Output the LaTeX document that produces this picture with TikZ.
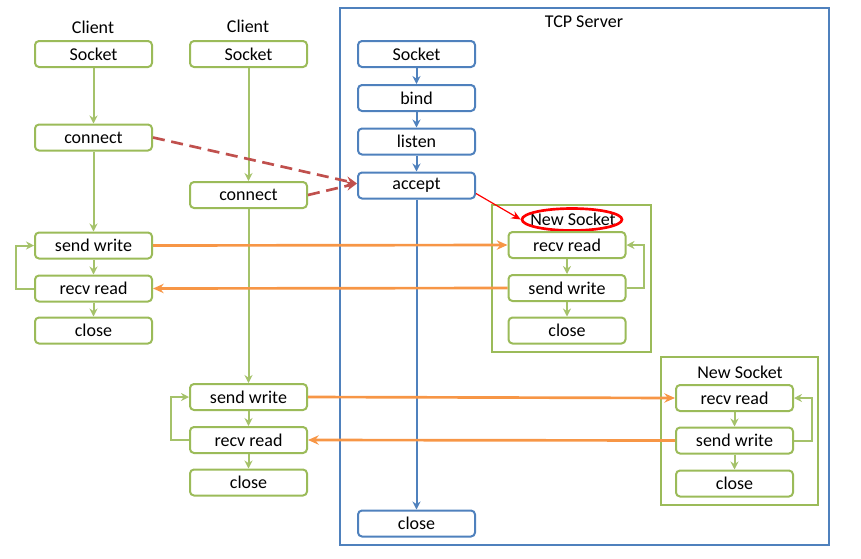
\documentclass[tikz,border=0pt]{standalone}
\usepackage{fontspec}
\setmainfont{Carlito}
\usetikzlibrary{arrows.meta,shapes.geometric}
\definecolor{gbord}{HTML}{9BBB59}
\definecolor{bbord}{HTML}{4F81BD}
\definecolor{oline}{HTML}{F79646}
\definecolor{dred}{HTML}{C0504D}
\tikzset{
  box/.style={draw, rounded corners=3pt, line width=1.5pt, fill=white,
    minimum width=117*0.75pt, minimum height=26*0.75pt, inner sep=0pt,
    font=\fontsize{13.5pt}{15pt}\selectfont},
  gbox/.style={box, draw=gbord},
  bbox/.style={box, draw=bbord},
  lbl/.style={font=\fontsize{13.5pt}{15pt}\selectfont, inner sep=0pt},
  garrow/.style={draw=gbord!90, line width=1.5pt, -{Stealth[length=6pt,width=6pt]}},
  barrow/.style={draw=bbord, line width=1.5pt, -{Stealth[length=6pt,width=6pt]}},
  oarrow/.style={draw=oline, line width=2pt, -{Stealth[length=8pt,width=7pt]}},
  rdash/.style={draw=dred, line width=2pt, dash pattern=on 9pt off 5pt, -{Stealth[length=8pt,width=7pt]}},
  frame/.style={draw=gbord, line width=1.5pt},
}
\begin{document}
\begin{tikzpicture}[x=0.75pt,y=-0.75pt]
\useasboundingbox (0,0) rectangle (861,558);
% server frame
\node[draw=bbord, line width=1.2pt, minimum width=489*0.75pt, minimum height=537*0.75pt, inner sep=0pt] (server) at (584.5,276.5) {};
\node[lbl] (tcplbl) at (584,22) {TCP Server};
% new socket frames
\node[frame, minimum width=159*0.75pt, minimum height=147*0.75pt, inner sep=0pt] (ns1frame) at (571.5,278.5) {};
\node[frame, minimum width=157*0.75pt, minimum height=148*0.75pt, inner sep=0pt] (ns2frame) at (739.5,431) {};

% client 1
\node[lbl] (c1lbl) at (93,27) {Client};
\node[gbox] (c1sock) at (93.5,54) {Socket};
\node[gbox] (c1conn) at (93.5,137.5) {connect};
\node[gbox] (c1send) at (93.5,245.5) {send write};
\node[gbox] (c1recv) at (93.5,288.5) {recv read};
\node[gbox] (c1close) at (93.5,330.5) {close};
% client 2
\node[lbl] (c2lbl) at (248,26) {Client};
\node[gbox] (c2sock) at (248.5,54) {Socket};
\node[gbox] (c2conn) at (248.5,195) {connect};
\node[gbox] (c2send) at (248.5,397) {send write};
\node[gbox] (c2recv) at (248.5,440) {recv read};
\node[gbox] (c2close) at (248.5,482.5) {close};
% server
\node[bbox] (ssock) at (416.5,54) {Socket};
\node[bbox] (sbind) at (416.5,98) {bind};
\node[bbox] (slisten) at (416.5,141.5) {listen};
\node[bbox] (saccept) at (416.5,185.5) {accept};
\node[bbox] (sclose) at (416.5,523.5) {close};
% new socket 1
\node[lbl] (ns1lbl) at (573,219) {New Socket};
\node[draw=red, line width=2pt, ellipse, minimum width=100*0.75pt, minimum height=22*0.75pt, inner sep=0pt] (ns1ell) at (572,219.5) {};
\node[gbox] (n1recv) at (567,245) {recv read};
\node[gbox] (n1send) at (567,288) {send write};
\node[gbox] (n1close) at (567,330.5) {close};
% new socket 2
\node[lbl] (ns2lbl) at (740,372) {New Socket};
\node[gbox] (n2recv) at (734.5,398) {recv read};
\node[gbox] (n2send) at (734.5,440.5) {send write};
\node[gbox] (n2close) at (734.5,483.5) {close};

% green arrows client 1
\draw[garrow] (c1sock) -- (c1conn);
\draw[garrow] (c1conn) -- (c1send);
\draw[garrow] (c1send) -- (c1recv);
\draw[garrow] (c1recv) -- (c1close);
\draw[garrow] (c1recv.west) -- ++(-18,0) |- (c1send.west);
% client 2
\draw[garrow] (c2sock) -- (c2conn);
\draw[garrow] (c2conn) -- (c2send);
\draw[garrow] (c2send) -- (c2recv);
\draw[garrow] (c2recv) -- (c2close);
\draw[garrow] (c2recv.west) -- ++(-18,0) |- (c2send.west);
% new socket 1
\draw[garrow] (n1recv) -- (n1send);
\draw[garrow] (n1send) -- (n1close);
\draw[garrow] (n1send.east) -- ++(17,0) |- (n1recv.east);
% new socket 2
\draw[garrow] (n2recv) -- (n2send);
\draw[garrow] (n2send) -- (n2close);
\draw[garrow] (n2send.east) -- ++(18,0) |- (n2recv.east);
% server
\draw[barrow] (ssock) -- (sbind);
\draw[barrow] (sbind) -- (slisten);
\draw[barrow] (slisten) -- (saccept);
\draw[barrow] (saccept) -- (sclose);

% orange data arrows
\draw[oarrow] (c1send.east) -- (n1recv.west);
\draw[oarrow] (n1send.west) -- (c1recv.east);
\draw[oarrow] (c2send.east) -- (n2recv.west);
\draw[oarrow] (n2send.west) -- (c2recv.east);

% connect dashed
\coordinate (acin) at ([yshift=1.5pt]saccept.west);
\draw[rdash] (c1conn.east) -- (acin);
\draw[rdash] (c2conn.east) -- (acin);
% accept -> new socket
\draw[draw=red, line width=0.9pt, -{Stealth[length=7pt,width=6pt]}] ([yshift=-6pt]saccept.east) -- (ns1ell.west);
\end{tikzpicture}
\end{document}
